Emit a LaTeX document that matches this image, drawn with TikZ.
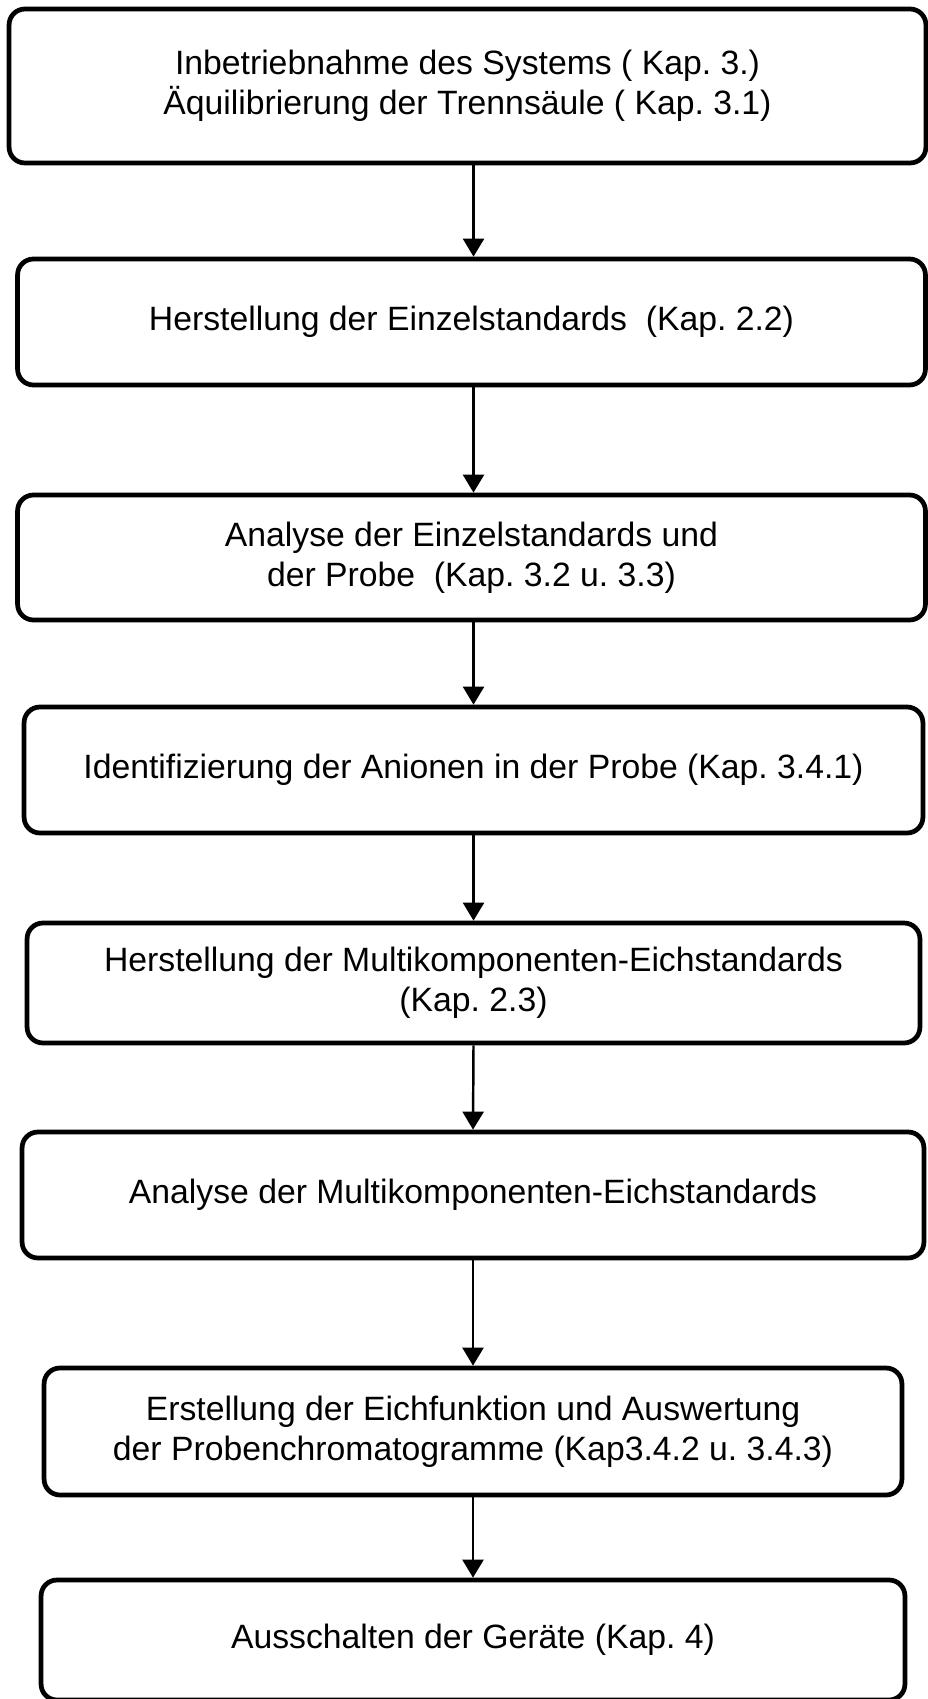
\documentclass[tikz,border=0pt]{standalone}
\usepackage{fontspec}
\setmainfont{Liberation Sans}
\usetikzlibrary{positioning,arrows.meta,calc}
\usepackage{xcolor}
\frenchspacing

\tikzset{
  stepbox/.style={draw, line width=2.7pt, rounded corners=9pt, align=center,
    inner sep=0pt, font=\fontsize{19.2}{22.8}\selectfont},
  flow/.style={line width=1.4pt, -{Triangle[length=0.36cm,width=0.42cm]}}
}

\begin{document}
\begin{tikzpicture}[x=0.02cm,y=-0.02cm]
\useasboundingbox (0,0) rectangle (928,1699);
\node[stepbox, minimum width=18.34cm, minimum height=3.08cm] (n1) at (467.5,86)
  {Inbetriebnahme des Systems ( Kap. 3.)\\\"Aquilibrierung der Trennsäule ( Kap. 3.1)};
\node[stepbox, minimum width=18.16cm, minimum height=2.52cm] (n2) at (471.5,322)
  {Herstellung der Einzelstandards~ (Kap. 2.2)};
\node[stepbox, minimum width=18.16cm, minimum height=2.50cm] (n3) at (471.5,557.5)
  {Analyse der Einzelstandards und\\der Probe~ (Kap. 3.2 u. 3.3)};
\node[stepbox, minimum width=17.98cm, minimum height=2.52cm] (n4) at (473.5,770)
  {Identifizierung der Anionen in der Probe (Kap. 3.4.1)};
\node[stepbox, minimum width=17.86cm, minimum height=2.40cm] (n5) at (473.5,983)
  {Herstellung der Multikomponenten-Eichstandards\\(Kap. 2.3)};
\node[stepbox, minimum width=18.04cm, minimum height=2.52cm] (n6) at (473,1195)
  {Analyse der Multikomponenten-Eichstandards};
\node[stepbox, minimum width=17.16cm, minimum height=2.54cm] (n7) at (473,1431.5)
  {Erstellung der Eichfunktion und Auswertung\\der Probenchromatogramme (Kap3.4.2 u. 3.4.3)};
\node[stepbox, minimum width=17.28cm, minimum height=2.40cm] (n8) at (473,1640)
  {Ausschalten der Geräte (Kap. 4)};

\draw[flow] (n1.south -| n4.north) -- (n2.north -| n4.north);
\draw[flow] (n2.south -| n4.north) -- (n3.north -| n4.north);
\draw[flow] (n3.south -| n4.north) -- (n4.north);
\draw[flow] (n4.south) -- (n5.north);
\draw[flow] (n5.south) -- (n6.north);
\draw[flow] (n6.south) -- (n7.north);
\draw[flow] (n7.south) -- (n8.north);
\end{tikzpicture}
\end{document}
